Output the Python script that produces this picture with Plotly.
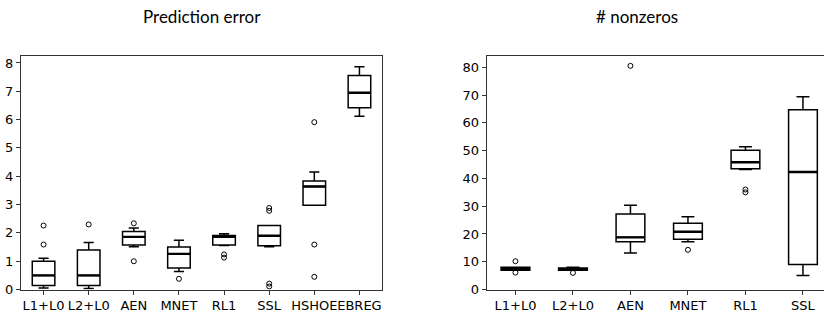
import plotly.graph_objects as go

# ---------------- data ----------------
err_labels = ["L1+L0", "L2+L0", "AEN", "MNET", "RL1", "SSL", "HSHOE", "EBREG"]
err_lower = [0.06, 0.04, 1.51, 0.64, 1.56, 1.51, 2.98, 6.12]
err_q1 = [0.14, 0.14, 1.57, 0.76, 1.57, 1.55, 2.98, 6.42]
err_median = [0.50, 0.50, 1.86, 1.26, 1.86, 1.90, 3.64, 6.95]
err_q3 = [1.00, 1.40, 2.05, 1.50, 1.91, 2.26, 3.83, 7.56]
err_upper = [1.11, 1.66, 2.17, 1.74, 1.97, 2.26, 4.15, 7.87]
err_outliers = [[1.59, 2.26], [2.30], [2.34, 1.00], [0.38], [1.24, 1.13],
                [2.88, 2.78, 0.21, 0.11], [5.91, 1.59, 0.45], []]

nz_labels = ["L1+L0", "L2+L0", "AEN", "MNET", "RL1", "SSL"]
nz_lower = [7.0, 7.0, 13.2, 17.2, 43.2, 5.1]
nz_q1 = [7.0, 7.0, 17.2, 18.1, 43.5, 9.0]
nz_median = [7.4, 7.3, 18.8, 20.8, 45.8, 42.3]
nz_q3 = [8.0, 7.8, 27.2, 23.9, 50.1, 64.7]
nz_upper = [8.0, 8.0, 30.3, 26.2, 51.4, 69.4]
nz_outliers = [[10.2, 6.1], [6.0], [80.5], [14.3], [36.0, 35.0], []]

BOX_W = 0.5

fig = go.Figure()


def add_panel(labels, lo, q1, med, q3, hi, outl, xa, ya):
    for i, lab in enumerate(labels):
        fig.add_trace(go.Box(
            x=[i], lowerfence=[lo[i]], q1=[q1[i]], median=[med[i]], q3=[q3[i]],
            upperfence=[hi[i]], width=BOX_W, whiskerwidth=0.45,
            fillcolor="rgba(255,255,255,0)", line=dict(color="black", width=1.5),
            boxpoints=False, showlegend=False, name=lab, xaxis=xa, yaxis=ya))
    # thicker median lines
    mx, my = [], []
    for i, m in enumerate(med):
        mx += [i - BOX_W / 2, i + BOX_W / 2, None]
        my += [m, m, None]
    fig.add_trace(go.Scatter(x=mx, y=my, mode="lines", line=dict(color="black", width=2.4),
                             showlegend=False, xaxis=xa, yaxis=ya, hoverinfo="skip"))
    ox, oy = [], []
    for i, vals in enumerate(outl):
        for v in vals:
            ox.append(i)
            oy.append(v)
    fig.add_trace(go.Scatter(x=ox, y=oy, mode="markers",
                             marker=dict(symbol="circle-open", size=5, color="black",
                                         line=dict(width=1, color="black")),
                             showlegend=False, xaxis=xa, yaxis=ya))


add_panel(err_labels, err_lower, err_q1, err_median, err_q3, err_upper, err_outliers, "x", "y")
add_panel(nz_labels, nz_lower, nz_q1, nz_median, nz_q3, nz_upper, nz_outliers, "x2", "y2")

tickfont = dict(family="DejaVu Sans, sans-serif", size=13, color="black")
ydom = [(320 - 297) / 320, (320 - 57) / 320]

common = dict(showgrid=False, zeroline=False, showline=True, linecolor="#333",
              linewidth=1, ticks="outside", ticklen=4, tickcolor="#333", tickfont=tickfont)

fig.update_layout(
    width=824, height=320,
    margin=dict(l=0, r=0, t=0, b=0),
    paper_bgcolor="white", plot_bgcolor="white",
    boxmode="overlay",
    xaxis=dict(domain=[21 / 824, 382 / 824], range=[-0.5, len(err_labels) - 0.5],
               tickvals=list(range(len(err_labels))), ticktext=err_labels, tickangle=0,
               mirror=True, **common),
    yaxis=dict(domain=ydom, range=[0, 8.26], tickvals=list(range(0, 9)),
               mirror=True, **common),
    xaxis2=dict(domain=[486.7 / 824, 1.0], range=[-0.5, 5.366], anchor="y2",
                tickvals=list(range(len(nz_labels))), ticktext=nz_labels, tickangle=0,
                mirror=True, **common),
    yaxis2=dict(domain=ydom, range=[0, 84.2], anchor="x2", tickvals=list(range(0, 81, 10)),
                mirror=False, **common),
    annotations=[
        dict(text="Prediction error", x=202 / 824, y=1 - 17 / 320, xref="paper", yref="paper",
             xanchor="center", yanchor="middle", showarrow=False,
             font=dict(family="Lato", size=17, color="black")),
        dict(text="# nonzeros", x=637 / 824, y=1 - 17 / 320, xref="paper", yref="paper",
             xanchor="center", yanchor="middle", showarrow=False,
             font=dict(family="Lato", size=17, color="black")),
    ],
)

fig.write_html("out.html")
